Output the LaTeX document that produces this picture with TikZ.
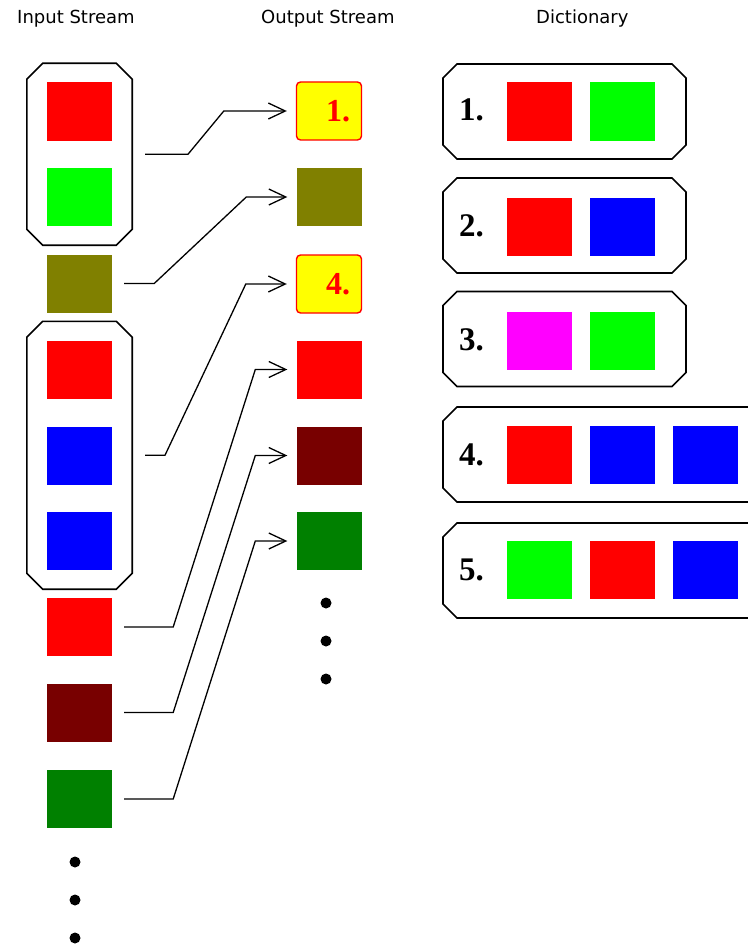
\documentclass[tikz,border=0pt]{standalone}
\usepackage{fontspec}
\usepackage{xcolor}
\usepackage{tikz}
\usetikzlibrary{arrows.meta,positioning,fit,shapes.misc}
\newfontfamily\headfont{DejaVu Sans}
\newfontfamily\numfont{Liberation Serif}
\definecolor{lzred}{HTML}{FF0000}
\definecolor{lzgreen}{HTML}{00FF00}
\definecolor{lzolive}{HTML}{808000}
\definecolor{lzblue}{HTML}{0000FF}
\definecolor{lzmagenta}{HTML}{FF00FF}
\definecolor{lzmaroon}{HTML}{780000}
\definecolor{lzforest}{HTML}{008000}
\definecolor{lzyellow}{HTML}{FFFF00}

\begin{document}
\begin{tikzpicture}[
  x=1pt,y=-1pt,
  head/.style={font=\headfont\fontsize{18}{20}\selectfont,anchor=base west,inner sep=0pt},
  sq/.style={minimum width=65pt,minimum height=58pt,inner sep=0pt},
  hit/.style={sq,fill=lzyellow,draw=lzred,line width=1.4pt,rounded corners=4pt,text=lzred,
    font=\numfont\bfseries\fontsize{32}{32}\selectfont,text width=42pt,align=right},
  grp/.style={draw=black,line width=1.6pt,chamfered rectangle,chamfered rectangle sep=8pt,inner xsep=12pt,inner ysep=11pt},
  dbox/.style={draw=black,line width=1.6pt,chamfered rectangle,chamfered rectangle sep=7pt,inner ysep=40.5pt},
  dnum/.style={font=\numfont\bfseries\fontsize{33}{33}\selectfont,anchor=base west,inner sep=0pt},
  dot/.style={circle,fill=black,inner sep=0pt,minimum size=11pt},
  link/.style={-{Straight Barb[length=17pt,width=16pt,line width=1.3pt]},line width=1.3pt,shorten <=12pt,shorten >=9pt},
]
\useasboundingbox (0,0) rectangle (747,947);
\node[head] (hin) at (17,24) {Input Stream};
\node[head] (hout) at (261,24) {Output Stream};
\node[head] (hdict) at (536,24) {Dictionary};
% input stream
\node[sq,fill=lzred] (in1) at (79.5,111.5) {};
\node[sq,fill=lzgreen] (in2) at (79.5,197) {};
\node[sq,fill=lzolive] (in3) at (79.5,283.5) {};
\node[sq,fill=lzred] (in4) at (79.5,369.5) {};
\node[sq,fill=lzblue] (in5) at (79.5,455.5) {};
\node[sq,fill=lzblue] (in6) at (79.5,541) {};
\node[sq,fill=lzred] (in7) at (79.5,627) {};
\node[sq,fill=lzmaroon] (in8) at (79.5,712.5) {};
\node[sq,fill=lzforest] (in9) at (79.5,799) {};
\node[grp,fit=(in1)(in2)] (g1) {};
\node[grp,fit=(in4)(in6)] (g2) {};
\node[dot] (idot1) at (75,862) {};
\node[dot] (idot2) at (75,900) {};
\node[dot] (idot3) at (75,938) {};
% output stream
\node[hit] (out1) at (329,111) {1.};
\node[sq,fill=lzolive] (out2) at (329,197) {};
\node[hit] (out3) at (329,284) {4.};
\node[sq,fill=lzred] (out4) at (329,369.5) {};
\node[sq,fill=lzmaroon] (out5) at (329,455.5) {};
\node[sq,fill=lzforest] (out6) at (329,541) {};
\node[dot] (odot1) at (326,603) {};
\node[dot] (odot2) at (326,641) {};
\node[dot] (odot3) at (326,679) {};
\draw[link] (g1.east) -- ++(55,0) -- ([xshift=-72pt]out1.west) -- (out1.west);
\draw[link] (in3.east) -- ++(42,0) -- ([xshift=-50pt]out2.west) -- (out2.west);
\draw[link] (g2.east) -- ++(32,0) -- ([xshift=-50pt]out3.west) -- (out3.west);
\draw[link] (in7.east) -- ++(61,0) -- ([xshift=-41pt]out4.west) -- (out4.west);
\draw[link] (in8.east) -- ++(61,0) -- ([xshift=-41pt]out5.west) -- (out5.west);
\draw[link] (in9.east) -- ++(61,0) -- ([xshift=-41pt]out6.west) -- (out6.west);
% dictionary
\node[dbox,inner xsep=114.5pt] (dict1) at (564.5,111.5) {};
\node[dbox,inner xsep=114.5pt] (dict2) at (564.5,225.5) {};
\node[dbox,inner xsep=114.5pt] (dict3) at (564.5,339) {};
\node[dbox,inner xsep=163pt] (dict4) at (613,454.5) {};
\node[dbox,inner xsep=163pt] (dict5) at (613,570.5) {};
\node[dnum] (n1) at (459,121) {1.};
\node[dnum] (n2) at (459,236) {2.};
\node[dnum] (n3) at (459,350) {3.};
\node[dnum] (n4) at (459,465) {4.};
\node[dnum] (n5) at (459,580) {5.};
\node[sq,fill=lzred] (d1a) at (539.5,111.5) {};
\node[sq,fill=lzgreen] (d1b) at (622,111.5) {};
\node[sq,fill=lzred] (d2a) at (539.5,226.5) {};
\node[sq,fill=lzblue] (d2b) at (622,226.5) {};
\node[sq,fill=lzmagenta] (d3a) at (539.5,341) {};
\node[sq,fill=lzgreen] (d3b) at (622,341) {};
\node[sq,fill=lzred] (d4a) at (539.5,455) {};
\node[sq,fill=lzblue] (d4b) at (622,455) {};
\node[sq,fill=lzblue] (d4c) at (705.5,455) {};
\node[sq,fill=lzgreen] (d5a) at (539.5,569.5) {};
\node[sq,fill=lzred] (d5b) at (622,569.5) {};
\node[sq,fill=lzblue] (d5c) at (705.5,569.5) {};
\end{tikzpicture}
\end{document}
